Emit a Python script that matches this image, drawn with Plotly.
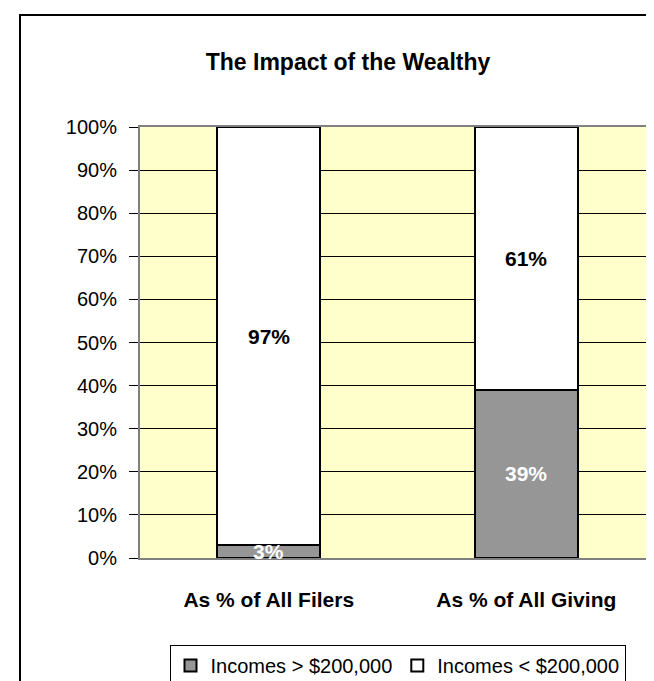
import plotly.graph_objects as go

categories = ["As % of All Filers", "As % of All Giving"]
high_income = [3, 39]
low_income = [97, 61]
series_names = ["Incomes > $200,000", "Incomes < $200,000"]
title_text = "The Impact of the Wealthy"
ytick_vals = [0, 10, 20, 30, 40, 50, 60, 70, 80, 90, 100]

FONT = "Arial, Liberation Sans, sans-serif"
W, H = 654, 681
L, R, T, B = 132, 7, 119, 131

fig = go.Figure()
fig.add_trace(go.Bar(
    x=categories, y=high_income, name=series_names[0],
    marker=dict(color="#969696", line=dict(color="black", width=2)),
))
fig.add_trace(go.Bar(
    x=categories, y=low_income, name=series_names[1],
    marker=dict(color="white", line=dict(color="black", width=2)),
))

annotations = []
for c, hv, lv in zip(categories, high_income, low_income):
    annotations.append(dict(x=c, y=hv / 2, text=f"<b>{hv}%</b>", showarrow=False,
                            font=dict(family=FONT, size=21, color="white"),
                            xref="x", yref="y"))
    annotations.append(dict(x=c, y=hv + lv / 2, text=f"<b>{lv}%</b>", showarrow=False,
                            font=dict(family=FONT, size=21, color="black"),
                            xref="x", yref="y"))

plot_w = W - L - R
plot_h = H - T - B
px2x = lambda p: (p - L) / plot_w
px2y = lambda p: (H - B - p) / plot_h

fig.update_layout(
    width=W, height=H,
    margin=dict(l=L, r=R, t=T, b=B, autoexpand=False),
    barmode="stack",
    bargap=0.6,
    paper_bgcolor="white",
    plot_bgcolor="#FFFFCC",
    font=dict(family=FONT, size=20, color="black"),
    title=dict(text=f"<b>{title_text}</b>", x=340 / W, y=1 - 54 / H,
               xanchor="center", yanchor="middle", xref="container", yref="container",
               font=dict(family=FONT, size=23, color="black")),
    showlegend=True,
    legend=dict(orientation="h", x=0.5, xanchor="center",
                y=px2y(637), yanchor="top",
                bordercolor="black", borderwidth=1, bgcolor="white",
                font=dict(family=FONT, size=20, color="black"),
                traceorder="normal"),
    xaxis=dict(showgrid=False, showline=True, linecolor="#808080", linewidth=2, mirror=True,
               ticks="", tickvals=categories,
               ticktext=[f"<b>{c}</b>" for c in categories],
               tickfont=dict(family=FONT, size=21, color="black"),
               ticklabelstandoff=22, zeroline=False),
    yaxis=dict(range=[0, 100], tickvals=ytick_vals,
               ticktext=[f"{v}%" for v in ytick_vals],
               showgrid=True, gridcolor="black", gridwidth=1,
               showline=True, linecolor="#808080", linewidth=2, mirror=True,
               ticks="outside", ticklen=9, tickcolor="black", tickwidth=1,
               ticklabelstandoff=8, zeroline=False,
               tickfont=dict(family=FONT, size=20, color="black")),
    annotations=annotations,
    shapes=[dict(type="rect", xref="paper", yref="paper",
                 x0=px2x(12), x1=px2x(700), y0=px2y(720), y1=px2y(7),
                 line=dict(color="black", width=2), fillcolor="rgba(0,0,0,0)",
                 layer="above")],
)

fig.write_html("out.html")
